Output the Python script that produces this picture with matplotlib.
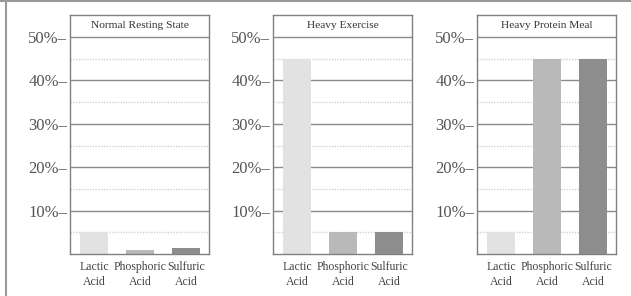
import matplotlib
matplotlib.use("Agg")
from matplotlib import pyplot as plt
from matplotlib.lines import Line2D

acids = ["Lactic\nAcid", "Phosphoric\nAcid", "Sulfuric\nAcid"]
states = ["Normal Resting State", "Heavy Exercise", "Heavy Protein Meal"]
resting = [5, 1.0, 1.3]
exercise = [45, 5, 5]
protein = [5, 45, 45]
yticks = [10, 20, 30, 40, 50]
ytick_labels = ["10%–", "20%–", "30%–", "40%–", "50%–"]
minor_lines = [5, 15, 25, 35, 45]
colors = ["#e2e2e2", "#b9b9b9", "#8d8d8d"]

plt.rcParams["font.family"] = ["Liberation Serif", "DejaVu Serif"]

fig = plt.figure(figsize=(6.31, 2.96), dpi=100)
edge = "#808080"

# frame lines of the original scan (top and left only)
fig.add_artist(Line2D([0, 1], [0.995, 0.995], color="#999999", lw=1.5,
                      transform=fig.transFigure))
fig.add_artist(Line2D([0.0103, 0.0103], [0, 1], color="#999999", lw=1.5,
                      transform=fig.transFigure))

lefts = [70, 273, 477]
for left, title, vals in zip(lefts, states, [resting, exercise, protein]):
    ax = fig.add_axes([left / 631, 42 / 296, 139 / 631, 239 / 296])
    x = range(len(acids))
    for y in minor_lines:
        ax.axhline(y, color="#d2d2d2", lw=1, ls=(0, (1, 1)), zorder=1)
    for y in yticks:
        ax.axhline(y, color="#8a8a8a", lw=1, zorder=1)
    ax.bar(x, vals, width=0.6, color=colors, zorder=2)
    ax.set_xlim(-0.52, 2.5)
    ax.set_ylim(0, 55.1)
    ax.set_yticks(yticks)
    ax.set_yticklabels(ytick_labels, fontsize=12, color="#555555")
    ax.set_xticks(list(x))
    ax.set_xticklabels(acids, fontsize=8.5, color="#444444", linespacing=1.35)
    ax.tick_params(axis="both", length=0)
    ax.tick_params(axis="y", pad=2)
    ax.tick_params(axis="x", pad=5)
    for s in ax.spines.values():
        s.set_color(edge)
        s.set_linewidth(1)
    ax.text(0.5, 52.6, title, transform=ax.get_yaxis_transform(),
            ha="center", va="center", fontsize=8.2, color="#333333")

fig.savefig("out.png", dpi=100)
